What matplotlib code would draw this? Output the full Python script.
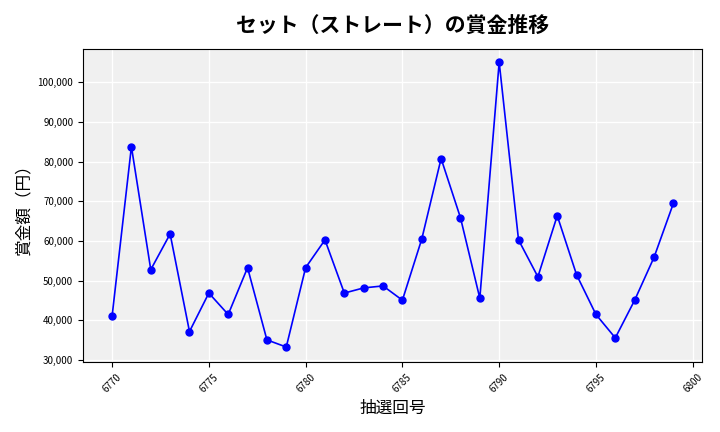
import matplotlib
matplotlib.use("Agg")
import matplotlib.pyplot as plt
from matplotlib.ticker import FuncFormatter

plt.rcParams["font.family"] = "Noto Sans CJK JP"

draws = list(range(6770, 6800))
prizes = [41000, 83800, 52800, 61800, 37200, 46900, 41500, 53300, 35100, 33300,
          53300, 60300, 46900, 48200, 48700, 45100, 60500, 80800, 65900, 45600,
          105100, 60300, 51000, 66400, 51500, 41500, 35600, 45100, 55900, 69500]

fig, ax = plt.subplots(figsize=(7.2, 4.32), dpi=100)
ax.set_facecolor("#f0f0f0")
ax.grid(True, color="white", linewidth=1)
ax.set_axisbelow(True)
ax.plot(draws, prizes, color="blue", marker="o", markersize=5, linewidth=1.2)

ax.set_title("セット（ストレート）の賞金推移", fontsize=15, fontweight="bold", pad=12)
ax.set_xlabel("抽選回号", fontsize=12)
ax.set_ylabel("賞金額（円）", fontsize=12)
ax.yaxis.set_major_formatter(FuncFormatter(lambda v, p: f"{int(v):,}"))
ax.set_xticks(range(6770, 6801, 5))
ax.tick_params(axis="x", labelrotation=45, labelsize=7)
ax.tick_params(axis="y", labelsize=7)
ax.set_xlim(6768.5, 6800.5)
ax.set_ylim(29500, 108500)

plt.tight_layout()
plt.savefig("out.png")
